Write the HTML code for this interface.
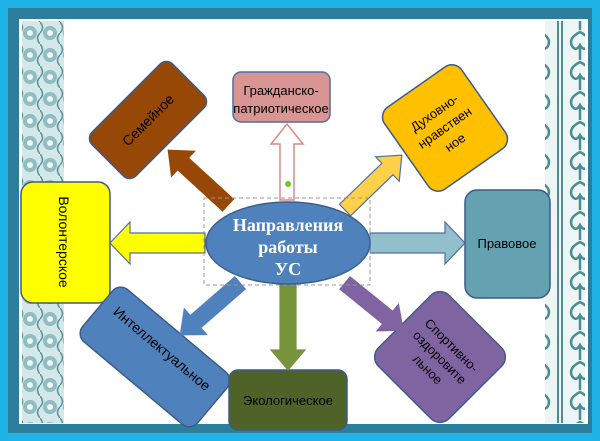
<!DOCTYPE html>
<html><head><meta charset="utf-8"><style>
html,body{margin:0;padding:0;background:#fff}
svg{display:block}
text{font-family:"Liberation Sans",sans-serif}
</style></head><body>
<svg width="600" height="441" viewBox="0 0 600 441" xmlns="http://www.w3.org/2000/svg">
<defs>
<pattern id="pl" width="20" height="22" patternUnits="userSpaceOnUse">
<rect width="20" height="22" fill="#d4e8ea"/>
<circle cx="10" cy="11" r="7" fill="#8fbdc1"/>
<circle cx="10" cy="11" r="3" fill="#eef6f6"/>
<path d="M0 0 Q5 6 0 11 M20 11 Q15 16 20 22" stroke="#5b9499" stroke-width="1.5" fill="none"/>
</pattern>
<pattern id="pr" width="40" height="30" patternUnits="userSpaceOnUse">
<rect width="40" height="30" fill="#eef5f5"/>
<path d="M20 2 Q8 8 12 16 Q16 22 20 15 Q24 22 28 16 Q32 8 20 2 Z M20 15 L20 30" stroke="#4a8d92" stroke-width="2.5" fill="none"/>
<path d="M2 0 L2 30 M38 0 L38 30" stroke="#4a8d92" stroke-width="2"/>
</pattern>
</defs>
<rect x="0" y="0" width="600" height="441" fill="#1fb3e8"/>
<rect x="8" y="8" width="584" height="425" fill="#2b7f9c"/>
<rect x="19" y="19" width="569" height="405" fill="#fff"/>
<rect x="22" y="21" width="42" height="402" fill="url(#pl)"/>
<rect x="545" y="21" width="40" height="402" fill="url(#pr)"/>

<rect x="233" y="72" width="97" height="50" rx="8" fill="#d99594" stroke="#4f6fa3" stroke-width="1.5"/>
<text x="281" y="95" font-size="13" text-anchor="middle">Гражданско-</text>
<text x="281" y="113" font-size="13" text-anchor="middle">патриотическое</text>

<g transform="translate(148,120) rotate(-45)">
<rect x="-57" y="-31" width="114" height="62" rx="9" fill="#974806" stroke="#3d5a8a" stroke-width="1.5"/>
<text x="0" y="5" font-size="14" text-anchor="middle">Семейное</text>
</g>

<g transform="translate(445,128) rotate(-35)">
<rect x="-47" y="-50" width="94" height="100" rx="12" fill="#ffc000" stroke="#3d5a8a" stroke-width="1.5"/>
<text x="0" y="-14" font-size="13" text-anchor="middle">Духовно-</text>
<text x="0" y="4" font-size="13" text-anchor="middle">нравствен</text>
<text x="0" y="22" font-size="13" text-anchor="middle">ное</text>
</g>

<rect x="21" y="182" width="89" height="121" rx="12" fill="#ffff00" stroke="#3d5a8a" stroke-width="1.5"/>
<text transform="translate(59,242) rotate(90)" x="0" y="0" font-size="14" text-anchor="middle">Волонтерское</text>

<rect x="465" y="190" width="85" height="108" rx="12" fill="#64a2b2" stroke="#3d5a8a" stroke-width="1.5"/>
<text x="507" y="248" font-size="13" text-anchor="middle">Правовое</text>

<g transform="translate(155,357) rotate(40)">
<rect x="-75" y="-34" width="150" height="68" rx="11" fill="#4f81bd" stroke="#3d5a8a" stroke-width="1.5"/>
<text x="0" y="-6" font-size="14" text-anchor="middle">Интеллектуальное</text>
</g>

<rect x="229" y="370" width="118" height="60" rx="9" fill="#4f6228" stroke="#3d5a8a" stroke-width="1.5"/>
<text x="288" y="405" font-size="13" text-anchor="middle">Экологическое</text>

<g transform="translate(440,357) rotate(45)">
<rect x="-50" y="-50" width="100" height="100" rx="13" fill="#8064a2" stroke="#3d5a8a" stroke-width="1.5"/>
<text x="0" y="-12" font-size="13" text-anchor="middle">Спортивно-</text>
<text x="0" y="5" font-size="13" text-anchor="middle">оздоровите</text>
<text x="0" y="22" font-size="13" text-anchor="middle">льное</text>
</g>

<g stroke-width="1.2">
<path transform="translate(287,200) rotate(-90)" d="M0,-7 L56,-7 L56,-16 L76,0 L56,16 L56,7 L0,7 Z" fill="#fff" stroke="#d98a8a" stroke-width="1.5"/>
<path transform="translate(228,205) rotate(-137.5)" d="M0,-8 L61,-8 L61,-17 L81,0 L61,17 L61,8 L0,8 Z" fill="#974806" stroke="#974806"/>
<path transform="translate(345,210) rotate(-44)" d="M0,-8 L59,-8 L59,-17 L79,0 L59,17 L59,8 L0,8 Z" fill="#ffd04a" stroke="#4f6fa3"/>
<path transform="translate(205,243) rotate(180)" d="M0,-10 L75,-10 L75,-21 L95,0 L75,21 L75,10 L0,10 Z" fill="#ffff00" stroke="#4f6fa3"/>
<path transform="translate(370,243)" d="M0,-10 L75,-10 L75,-21 L95,0 L75,21 L75,10 L0,10 Z" fill="#93bfcc" stroke="#4f6fa3"/>
<path transform="translate(240,283) rotate(139)" d="M0,-8 L59,-8 L59,-17 L79,0 L59,17 L59,8 L0,8 Z" fill="#4f81bd" stroke="#4f81bd"/>
<path transform="translate(288,285) rotate(90)" d="M0,-8 L65,-8 L65,-17 L85,0 L65,17 L65,8 L0,8 Z" fill="#77933c" stroke="#77933c"/>
<path transform="translate(345,283) rotate(39)" d="M0,-8 L55,-8 L55,-17 L75,0 L55,17 L55,8 L0,8 Z" fill="#8064a2" stroke="#8064a2"/>
</g>

<rect x="204" y="198" width="166" height="87" fill="none" stroke="#999" stroke-dasharray="4,3" stroke-width="1"/>
<ellipse cx="288" cy="243" rx="82" ry="41" fill="#4f81bd" stroke="#3a5f8f" stroke-width="1.5"/>
<circle cx="288" cy="184" r="3" fill="#66cc33"/>
<text x="288" y="231" font-weight="bold" font-size="18" fill="#fff" text-anchor="middle" style="font-family:'Liberation Serif',serif">Направления</text>
<text x="288" y="253" font-weight="bold" font-size="18" fill="#fff" text-anchor="middle" style="font-family:'Liberation Serif',serif">работы</text>
<text x="288" y="275" font-weight="bold" font-size="18" fill="#fff" text-anchor="middle" style="font-family:'Liberation Serif',serif">УС</text>
</svg>
</body></html>
